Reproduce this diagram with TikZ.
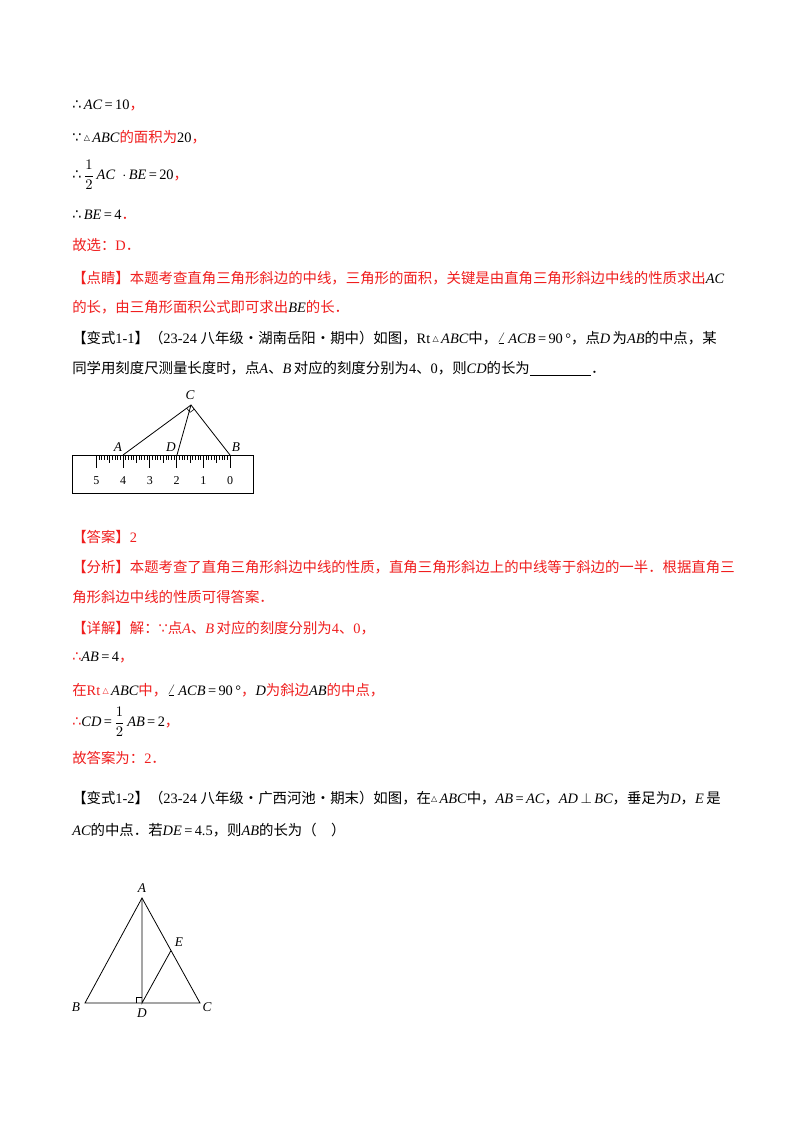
\documentclass[tikz,border=0pt]{standalone}
\usepackage{fontspec}
\usetikzlibrary{calc}
\setmainfont{Liberation Serif}
\newfontfamily\cjk{Noto Sans CJK SC}
\newfontfamily\dv{DejaVu Sans}
\definecolor{myred}{RGB}{240,30,30}
\newcommand{\cj}[1]{{\cjk #1}}
\newcommand{\mi}[1]{{\itshape #1}}
\newcommand{\tri}{\raisebox{1.5pt}{\dv\fontsize{6}{7}\selectfont △}}
\newcommand{\sothat}{{\dv ∴}}
\newcommand{\becaus}{{\dv ∵}}
\newcommand{\rr}[1]{{\color{myred}#1}}
\newcommand{\half}{$\displaystyle\frac{1}{2}$}
\begin{document}
\begin{tikzpicture}[x=0.75pt,y=-0.75pt,
  txt/.style={anchor=west,inner sep=0pt,font=\fontsize{10.8}{12}\selectfont},
  fig/.style={line width=0.6pt},
  lab/.style={inner sep=0pt,font=\fontsize{10}{11}\selectfont\itshape}]
\useasboundingbox[fill=white] (0,0) rectangle (800,1132);
\node[txt] (l1) at (72,105) {\sothat\,\mi{AC}\,=\,10\rr{\cj{，}}};
\node[txt] (l2) at (72,137) {\becaus\,\tri\,\mi{ABC}\rr{\cj{的面积为}}20\rr{\cj{，}}};
\node[txt] (l3) at (72,175) {\sothat\,\half\,\mi{AC}\ \ $\cdot$\,\mi{BE}\,=\,20\rr{\cj{，}}};
\node[txt] (l4) at (72,215) {\sothat\,\mi{BE}\,=\,4\rr{\cj{．}}};
\node[txt] (l5) at (72,245) {\rr{\cj{故选：}D\cj{．}}};
\node[txt] (l6) at (72,278) {\rr{\cj{【点睛】本题考查直角三角形斜边的中线，三角形的面积，关键是由直角三角形斜边中线的性质求出}}\mi{AC}};
\node[txt] (l7) at (72,307) {\rr{\cj{的长，由三角形面积公式即可求出}}\mi{BE}\rr{\cj{的长．}}};
\node[txt] (l8) at (72,338) {\cj{【变式}1-1\cj{】（}23-24 \cj{八年级·湖南岳阳·期中）如图，}Rt\,\tri\,\mi{ABC}\cj{中，}$\angle$\,\mi{ACB}\,=\,90\,°\cj{，点}\mi{D}\,\cj{为}\mi{AB}\cj{的中点，某}};
\node[txt] (l9) at (72,369) {\cj{同学用刻度尺测量长度时，点}\mi{A}\cj{、}\mi{B}\,\cj{对应的刻度分别为}4\cj{、}0\cj{，则}\mi{CD}\cj{的长为}\underline{\hspace{46pt}}\cj{．}};
% ruler figure
\draw[fig] (72,455) rectangle (253,493);
\foreach \i in {0,...,50}{
  \pgfmathsetmacro{\xx}{230-\i*2.675}
  \pgfmathtruncatemacro{\m}{mod(\i,10)}
  \pgfmathtruncatemacro{\h}{mod(\i,5)}
  \ifnum\m=0 \def\len{13}\else\ifnum\h=0 \def\len{8}\else\def\len{4.5}\fi\fi
  \draw[line width=0.45pt] (\xx,455) -- (\xx,455+\len);
}
\foreach \k in {0,...,5}{\node[inner sep=0pt,font=\fontsize{9}{10}\selectfont] (n\k) at (230-\k*26.75,481) {\k};}
\coordinate (A) at (123,455); \coordinate (B) at (230,455);
\coordinate (D) at (177,455); \coordinate (C) at (191,405);
\draw[fig] (A) -- (C) -- (B); \draw[fig] (C) -- (D);
\coordinate (ca) at ($(C)!4pt!(A)$); \coordinate (cb) at ($(C)!4pt!(B)$);
\draw[line width=0.45pt] (ca) -- ($(ca)+(cb)-(C)$) -- (cb);
\node[lab] (lA) at (118,447) {A}; \node[lab] (lD) at (171,447) {D};
\node[lab] (lB) at (236,447) {B}; \node[lab] (lC) at (190,395) {C};
% answers
\node[txt] (m1) at (72,537) {\rr{\cj{【答案】}2}};
\node[txt] (m2) at (72,567) {\rr{\cj{【分析】本题考查了直角三角形斜边中线的性质，直角三角形斜边上的中线等于斜边的一半．根据直角三}}};
\node[txt] (m3) at (72,597) {\rr{\cj{角形斜边中线的性质可得答案．}}};
\node[txt] (m4) at (72,628) {\rr{\cj{【详解】解：}\becaus\cj{点}\mi{A}\cj{、}\mi{B}\,\cj{对应的刻度分别为}4\cj{、}0\cj{，}}};
\node[txt] (m5) at (72,658) {\rr{\sothat}\mi{AB}\,=\,4\rr{\cj{，}}};
\node[txt] (m6) at (72,690) {\rr{\cj{在}Rt\,\tri}\,\mi{ABC}\rr{\cj{中，}}$\angle$\,\mi{ACB}\,=\,90\,°\rr{\cj{，}}\mi{D}\rr{\cj{为斜边}}\mi{AB}\rr{\cj{的中点，}}};
\node[txt] (m7) at (72,722) {\rr{\sothat}\mi{CD}\,=\,\half\,\mi{AB}\,=\,2\rr{\cj{，}}};
\node[txt] (m8) at (72,758) {\rr{\cj{故答案为：}2\cj{．}}};
\node[txt] (m9) at (72,798) {\cj{【变式}1-2\cj{】（}23-24 \cj{八年级·广西河池·期末）如图，在}\tri\,\mi{ABC}\cj{中，}\mi{AB}\,=\,\mi{AC}\cj{，}\mi{AD}\,$\perp$\,\mi{BC}\cj{，垂足为}\mi{D}\cj{，}\mi{E}\,\cj{是}};
\node[txt] (m10) at (72,830) {\mi{AC}\cj{的中点．若}\mi{DE}\,=\,4.5\cj{，则}\mi{AB}\cj{的长为（　）}};
% triangle figure
\coordinate (TA) at (142,898); \coordinate (TB) at (85,1003);
\coordinate (TC) at (200,1003); \coordinate (TD) at (142,1003);
\coordinate (TE) at (171,950.5);
\draw[fig] (TA) -- (TB) -- (TC) -- cycle; \draw[fig] (TA) -- (TD) -- (TE);
\draw[line width=0.45pt] (136,1003) -- (136,997) -- (142,997);
\node[lab] (tA) at (142,888) {A}; \node[lab] (tE) at (179,942) {E};
\node[lab] (tB) at (76,1007) {B}; \node[lab] (tD) at (142,1013) {D};
\node[lab] (tC) at (207,1007) {C};
\end{tikzpicture}
\end{document}
